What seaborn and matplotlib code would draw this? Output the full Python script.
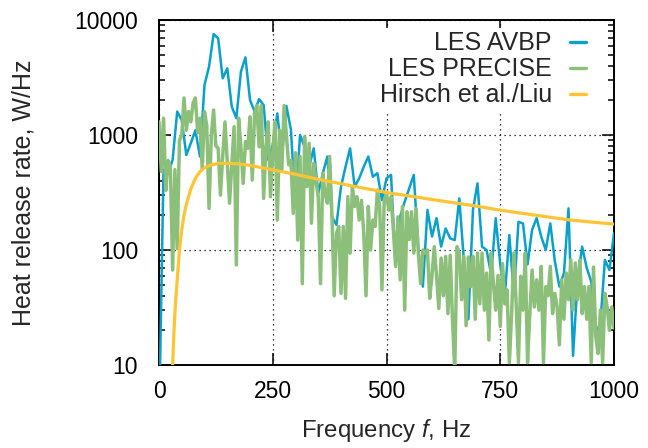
import matplotlib
matplotlib.use("Agg")
import numpy as np
import pandas as pd
import seaborn as sns
import matplotlib.pyplot as plt
from matplotlib.lines import Line2D
from matplotlib.ticker import LogLocator, NullFormatter, FixedLocator, FixedFormatter

# ---------------- data ----------------
freq_avbp = list(range(0, 1001, 10))
avbp = [3, 500, 460, 610, 1600, 1350, 670, 850, 1100, 650,
        2720, 3930, 7550, 6930, 3110, 3800, 1760, 1400, 3550, 4730,
        2020, 1600, 2050, 1820, 610, 820, 1540, 650, 1790, 1100,
        238, 1000, 790, 530, 765, 311, 465, 650, 195, 165,
        355, 530, 765, 355, 420, 530, 650, 434, 465, 272,
        420, 450, 72, 195, 263, 344, 450, 100, 48, 223,
        131, 189, 107, 154, 126, 122, 281, 82, 25, 223,
        380, 107, 100, 61, 189, 75, 40, 135, 40, 176,
        170, 75, 150, 189, 131, 100, 170, 80, 48, 63,
        230, 12, 55, 107, 70, 53, 19, 23, 82, 67,
        140]

freq_precise = list(range(0, 1001, 5))
precise = [1300, 480, 1400, 330, 600, 530, 67, 500, 103, 900,
           1000, 2100, 1100, 1600, 1300, 1900, 2100, 1050, 1400, 500,
           1600, 1200, 230, 1000, 1650, 800, 770, 300, 650, 1300,
           590, 255, 550, 1180, 74, 1400, 790, 380, 875, 765,
           1440, 406, 1540, 1800, 790, 1800, 281, 790, 1300, 290,
           700, 1300, 182, 1100, 500, 1800, 1000, 550, 600, 208,
           700, 122, 650, 51, 967, 356, 845, 171, 567, 400,
           291, 51, 465, 310, 255, 650, 208, 40, 140, 160,
           42, 160, 38, 291, 94, 356, 239, 291, 182, 270,
           140, 40, 239, 100, 182, 160, 333, 239, 45, 270,
           310, 222, 291, 150, 72, 194, 55, 239, 30, 215,
           123, 215, 94, 230, 94, 51, 100, 94, 100, 38,
           60, 107, 59, 31, 85, 40, 88, 28, 90, 25,
           9, 107, 94, 37, 88, 22, 87, 48, 88, 25,
           94, 34, 94, 30, 63, 16.5, 94, 51, 30, 60,
           21.6, 76, 34, 45, 10.5, 28, 94, 34, 10.5, 59,
           30, 94, 10.5, 28, 67, 32, 55, 30, 72, 10.5,
           48, 40, 72, 28, 42, 32, 15, 55, 25, 63,
           37, 82, 30, 77, 37, 82, 28, 48, 25, 48,
           10.5, 71, 17.6, 12.6, 30, 10.5, 42, 32, 20, 32,
           21]

freq_hirsch = [28, 30, 33, 36, 40, 45, 50, 55, 60, 70, 80, 90, 100, 115, 130,
               150, 175, 200, 250, 300, 350, 400, 450, 500, 550, 600, 650,
               700, 750, 800, 850, 900, 950, 1000]
hirsch = [5, 10, 20, 33, 55, 100, 150, 200, 250, 340, 420, 480, 520, 550, 565,
          567, 560, 545, 497, 455, 412, 377, 345, 316, 295, 275, 257,
          240, 222, 208, 195, 183, 175, 168]

labels = ["LES AVBP", "LES PRECISE", "Hirsch et al./Liu"]
colors = ["#0aa0cc", "#8cc07a", "#ffc433"]
xticks = [0, 250, 500, 750, 1000]
yticks = [10, 100, 1000, 10000]
ytick_labels = ["10", "100", "1000", "10000"]

# ---------------- plotting ----------------
sns.set_style("ticks")
plt.rcParams["font.family"] = ["Liberation Sans", "DejaVu Sans"]
plt.rcParams["mathtext.fontset"] = "custom"
plt.rcParams["mathtext.rm"] = "Liberation Sans"
plt.rcParams["mathtext.it"] = "Liberation Sans:italic"

fig = plt.figure(figsize=(6.48, 4.48), dpi=100)
ax = fig.add_axes([159 / 648, 1 - 365 / 448, (614 - 159) / 648, 345 / 448])

df_a = pd.DataFrame({"f": freq_avbp, "v": avbp})
df_p = pd.DataFrame({"f": freq_precise, "v": precise})
df_h = pd.DataFrame({"f": freq_hirsch, "v": hirsch})

sns.lineplot(data=df_a, x="f", y="v", ax=ax, color=colors[0], lw=1.8, zorder=3)
sns.lineplot(data=df_p, x="f", y="v", ax=ax, color=colors[1], lw=2.5, zorder=4)
sns.lineplot(data=df_h, x="f", y="v", ax=ax, color=colors[2], lw=2.3, zorder=5)

ax.set_yscale("log")
ax.set_xlim(0, 1000)
ax.set_ylim(10, 10000)
ax.set_xlabel("")
ax.set_ylabel("")

ax.xaxis.set_major_locator(FixedLocator(xticks))
ax.yaxis.set_major_locator(FixedLocator(yticks))
ax.yaxis.set_major_formatter(FixedFormatter(ytick_labels))
ax.yaxis.set_minor_locator(LogLocator(base=10, subs=np.arange(2, 10)))
ax.yaxis.set_minor_formatter(NullFormatter())

ax.tick_params(which="both", direction="in", top=True, right=True,
               color="black", width=1.1, labelcolor="black", labelsize=16.5)
ax.tick_params(which="major", length=8.6)
ax.tick_params(which="minor", length=4.3)
ax.tick_params(axis="x", pad=11)
ax.tick_params(axis="y", pad=15)

for s in ax.spines.values():
    s.set_color("black")
    s.set_linewidth(1.4)

ax.set_axisbelow(True)
ax.grid(which="major", color="black", linestyle=(0, (1, 3)), linewidth=0.9)

handles = [Line2D([], [], color=c, lw=2.4) for c in colors]
leg = ax.legend(handles, labels, loc="upper right",
                bbox_to_anchor=(1 - 17 / 455, 1.0),
                markerfirst=False,
                frameon=True, fancybox=False, framealpha=1, facecolor="white",
                edgecolor="none", fontsize=18, handlelength=0.65,
                handletextpad=0.7, labelspacing=0.08, borderaxespad=0.3,
                borderpad=0.15)
leg.set_zorder(10)

fig.text(24 / 648, 1 - 192.5 / 448, "Heat release rate, W/Hz", rotation=90,
         ha="center", va="center", fontsize=18)
fig.text(386 / 648, 1 - 430 / 448, "Frequency $\\mathit{f}$, Hz",
         ha="center", va="center", fontsize=17.3)

fig.savefig("out.png", dpi=100)
